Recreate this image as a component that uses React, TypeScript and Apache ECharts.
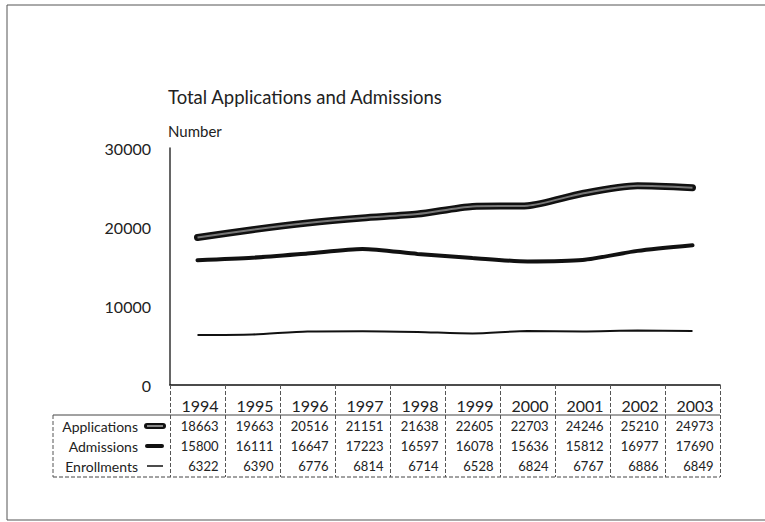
import React, { useEffect, useRef } from "react";
import * as echarts from "echarts";

const years = ["1994", "1995", "1996", "1997", "1998", "1999", "2000", "2001", "2002", "2003"];
const applications = [18663, 19663, 20516, 21151, 21638, 22605, 22703, 24246, 25210, 24973];
const admissions = [15800, 16111, 16647, 17223, 16597, 16078, 15636, 15812, 16977, 17690];
const enrollments = [6322, 6390, 6776, 6814, 6714, 6528, 6824, 6767, 6886, 6849];
const rowNames = ["Applications", "Admissions", "Enrollments"];
const yTicks = { min: 0, max: 30000, interval: 10000 };

const FONT = "Lato";

export default function App() {
  const ref = useRef<HTMLDivElement>(null);
  useEffect(() => {
    if (!ref.current) return;
    const chart = echarts.init(ref.current, null, { renderer: "svg" });
    const gridLeft = 170;
    const gridRight = 45;
    const tableLeft = 53;
    const tableRight = 765 - gridRight;
    const rowY = [426, 446, 466];
    const option: any = {
      animation: false,
      backgroundColor: "#fff",
      textStyle: { fontFamily: FONT },
      title: {
        text: "Total Applications and Admissions",
        left: 163,
        top: 82,
        textStyle: { fontFamily: FONT, fontSize: 18.5, fontWeight: "normal", color: "#222" },
      },
      grid: { left: gridLeft, right: gridRight, top: 148, bottom: 137 },
      xAxis: {
        type: "category",
        data: years,
        boundaryGap: true,
        axisLine: { lineStyle: { color: "#111", width: 1.5 } },
        axisTick: { show: true, length: 92, lineStyle: { color: "#555", type: "dashed", width: 1 } },
        axisLabel: {
          interval: 0,
          margin: 10,
          formatter: (v: string, i: number) =>
            `{y|${v}}\n{v|${applications[i]}}\n{v|${admissions[i]}}\n{v|${enrollments[i]}}`,
          rich: {
            y: { fontFamily: FONT, fontSize: 16, lineHeight: 21, width: 42, align: "right", color: "#222" },
            v: { fontFamily: FONT, fontSize: 13, lineHeight: 20, width: 42, align: "right", color: "#222" },
          },
        },
      },
      yAxis: {
        type: "value",
        min: yTicks.min,
        max: yTicks.max,
        interval: yTicks.interval,
        name: "Number",
        nameLocation: "end",
        nameGap: 10,
        nameTextStyle: { fontFamily: FONT, fontSize: 15, color: "#222", align: "left", padding: [0, 0, 0, -2] },
        axisLine: { show: true, lineStyle: { color: "#333", width: 1.5 } },
        axisTick: { show: false },
        splitLine: { show: false },
        axisLabel: {
          margin: 19,
          fontFamily: FONT,
          fontSize: 16,
          color: "#222",
          formatter: (v: number) => String(v),
        },
      },
      series: [
        {
          name: "Applications",
          type: "line",
          data: applications,
          smooth: 0.25,
          symbol: "none",
          lineStyle: { color: "#111", width: 7, cap: "round" },
        },
        {
          name: "Applications inner",
          type: "line",
          data: applications,
          smooth: 0.25,
          symbol: "none",
          lineStyle: { color: "#777", width: 2 },
        },
        {
          name: "Admissions",
          type: "line",
          data: admissions,
          smooth: 0.25,
          symbol: "none",
          lineStyle: { color: "#111", width: 4, cap: "round" },
        },
        {
          name: "Enrollments",
          type: "line",
          data: enrollments,
          smooth: 0.25,
          symbol: "none",
          lineStyle: { color: "#111", width: 2 },
        },
      ],
      graphic: [
        {
          type: "rect",
          shape: { x: 7, y: 5, width: 800, height: 515 },
          style: { fill: "none", stroke: "#555", lineWidth: 1 },
          silent: true,
        },
        {
          type: "line",
          shape: { x1: tableLeft, y1: 415, x2: tableRight, y2: 415 },
          style: { stroke: "#444", lineWidth: 1 },
        },
        {
          type: "line",
          shape: { x1: tableLeft, y1: 477, x2: tableRight, y2: 477 },
          style: { stroke: "#444", lineWidth: 1, lineDash: [4, 2] },
        },
        {
          type: "line",
          shape: { x1: tableLeft, y1: 415, x2: tableLeft, y2: 477 },
          style: { stroke: "#555", lineWidth: 1, lineDash: [4, 2] },
        },
        ...rowNames.map((n, i) => ({
          type: "text",
          x: 138,
          y: rowY[i],
          style: {
            text: n,
            fontFamily: FONT,
            fontSize: 14,
            fill: "#222",
            align: "right",
            verticalAlign: "middle",
          },
        })),
        {
          type: "rect",
          shape: { x: 144, y: rowY[0] - 3, width: 22, height: 6, r: 3 },
          style: { fill: "#111" },
        },
        {
          type: "rect",
          shape: { x: 147, y: rowY[0] - 1, width: 16, height: 2 },
          style: { fill: "#888" },
        },
        {
          type: "rect",
          shape: { x: 145, y: rowY[1] - 2, width: 19, height: 4, r: 2 },
          style: { fill: "#111" },
        },
        {
          type: "line",
          shape: { x1: 147, y1: rowY[2], x2: 163, y2: rowY[2] },
          style: { stroke: "#111", lineWidth: 1.5 },
        },
      ],
    };
    chart.setOption(option);
    return () => chart.dispose();
  }, []);
  return <div ref={ref} style={{ width: 765, height: 522, position: "absolute", left: 0, top: 0 }} />;
}
